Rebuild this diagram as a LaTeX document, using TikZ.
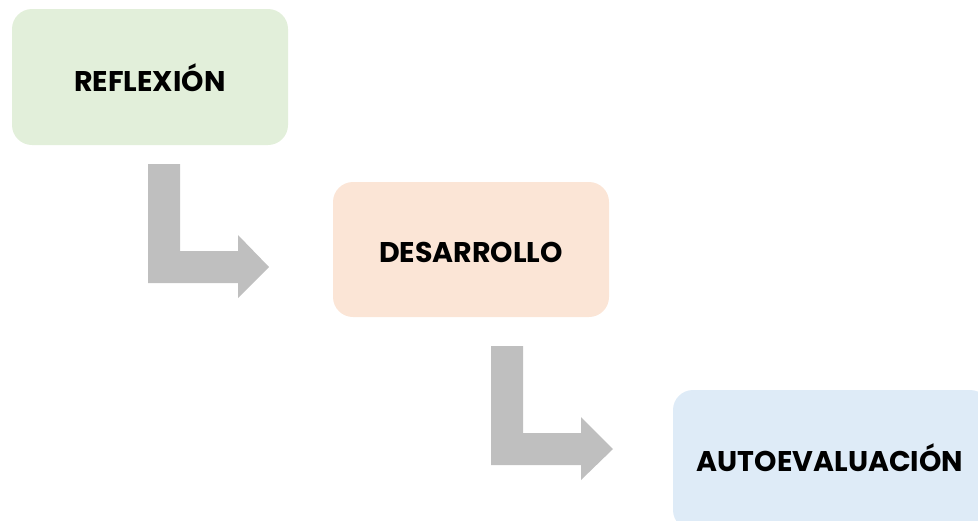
\documentclass[tikz,border=0pt]{standalone}
\usepackage{fontspec}
\setmainfont{Poppins}
\begin{document}
\begin{tikzpicture}[x=1pt,y=-1pt,
  stagebox/.style={inner sep=0pt, anchor=center, font=\fontsize{28.5}{32}\selectfont\bfseries, text=black},
  bentarrow/.style={fill=arrowgray, draw=none}]
\definecolor{boxgreen}{HTML}{E2EFDA}
\definecolor{boxpeach}{HTML}{FBE5D6}
\definecolor{boxblue}{HTML}{DEEBF7}
\definecolor{arrowgray}{HTML}{BFBFBF}
\useasboundingbox (0,0) rectangle (978,520);
\clip (0,0) rectangle (978,520);
% boxes
\fill[boxgreen, rounded corners=20pt] (12,9) rectangle (288,145);
\fill[boxpeach, rounded corners=20pt] (333,182) rectangle (609,317);
\fill[boxblue, rounded corners=20pt] (673,390) rectangle (990,530);
\node[stagebox] (refl) at (150,78) {REFLEXIÓN};
\node[stagebox] (desa) at (471,252) {DESARROLLO};
\node[stagebox] (auto) at (830,458) {AUTOEVALUACIÓN};
% bent arrows
\fill[bentarrow] (148,164) -- (180,164) -- (180,251) -- (238,251) -- (238,235) -- (269,267) -- (238,298) -- (238,283) -- (148,283) -- cycle;
\fill[bentarrow] (491,346) -- (523,346) -- (523,433) -- (581,433) -- (581,417) -- (613,449) -- (581,480) -- (581,465) -- (491,465) -- cycle;
\end{tikzpicture}
\end{document}
